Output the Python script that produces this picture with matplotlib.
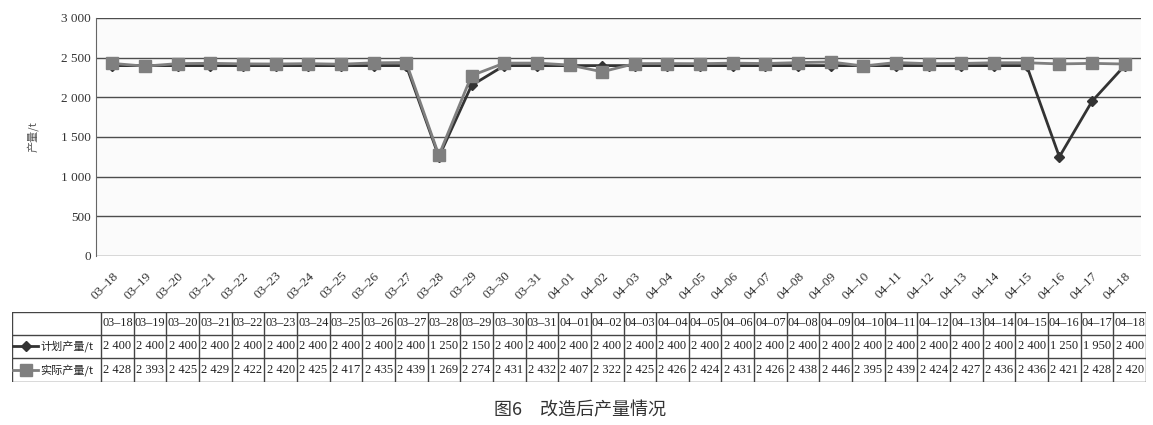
import matplotlib
matplotlib.use("Agg")
import matplotlib.pyplot as plt
from matplotlib.ticker import FuncFormatter, MultipleLocator

# data
dates = ["03–18", "03–19", "03–20", "03–21", "03–22", "03–23", "03–24", "03–25",
         "03–26", "03–27", "03–28", "03–29", "03–30", "03–31", "04–01", "04–02",
         "04–03", "04–04", "04–05", "04–06", "04–07", "04–08", "04–09", "04–10",
         "04–11", "04–12", "04–13", "04–14", "04–15", "04–16", "04–17", "04–18"]
planned = [2400, 2400, 2400, 2400, 2400, 2400, 2400, 2400, 2400, 2400, 1250, 2150,
           2400, 2400, 2400, 2400, 2400, 2400, 2400, 2400, 2400, 2400, 2400, 2400,
           2400, 2400, 2400, 2400, 2400, 1250, 1950, 2400]
actual = [2428, 2393, 2425, 2429, 2422, 2420, 2425, 2417, 2435, 2439, 1269, 2274,
          2431, 2432, 2407, 2322, 2425, 2426, 2424, 2431, 2426, 2438, 2446, 2395,
          2439, 2424, 2427, 2436, 2436, 2421, 2428, 2420]
series_names = ["计划产量/t", "实际产量/t"]

serif = ["Liberation Serif", "DejaVu Serif"]
cjk = ["Noto Sans CJK SC", "DejaVu Sans"]
dark = "#333333"
grey = "#7f7f7f"


def fmt(v):
    return f"{int(v):,}".replace(",", " ")


W, H = 1153, 425
fig = plt.figure(figsize=(W / 100, H / 100), dpi=100)
fig.patch.set_facecolor("white")

# ---- line chart
ax = fig.add_axes([96 / W, 1 - 256 / H, (1141 - 96) / W, (256 - 18) / H])
ax.set_facecolor("#fbfbfb")
x = range(len(dates))
ax.plot(x, planned, color=dark, lw=2, marker="D", ms=5, zorder=3)
ax.plot(x, actual, color=grey, lw=2, marker="s", ms=8.5, zorder=4)
ax.set_xlim(-0.5, len(dates) - 0.5)
ax.set_ylim(0, 3000)
ax.yaxis.set_major_locator(MultipleLocator(500))
ax.yaxis.set_major_formatter(FuncFormatter(lambda v, p: fmt(v)))
ax.grid(axis="y", color="#4d4d4d", lw=1)
ax.set_axisbelow(True)
for s in ["top", "right", "bottom"]:
    ax.spines[s].set_visible(False)
ax.spines["left"].set_color("#666666")
ax.tick_params(length=0, labelsize=9.5, colors="#333333")
ax.set_xticks(list(x))
ax.set_xticklabels(dates, rotation=45, ha="right", rotation_mode="anchor",
                   fontsize=9.5, family=serif)
for lb in ax.get_yticklabels():
    lb.set_family(serif)
ax.tick_params(axis="x", pad=10)
ax.set_ylabel("产量/t", family=cjk, fontsize=8, color="#555555", labelpad=16)

# ---- data table below
tab = fig.add_axes([12 / W, 1 - 382 / H, (1146 - 12) / W, (382 - 312) / H])
tab.set_xlim(12, 1146)
tab.set_ylim(382, 312)
tab.axis("off")
first = 101
cw = (1146 - first) / len(dates)
rows = [312, 334.5, 358, 381.5]
for yy in rows:
    tab.plot([12, 1146], [yy, yy], color="#444444", lw=1)
for i in range(len(dates) + 1):
    xx = first + i * cw
    tab.plot([xx, xx], [rows[0], rows[-1]], color="#444444", lw=1)
tab.plot([12, 12], [rows[0], rows[-1]], color="#444444", lw=1)

for i, d in enumerate(dates):
    cx = first + (i + 0.5) * cw
    tab.text(cx, (rows[0] + rows[1]) / 2, d, ha="center", va="center",
             fontsize=8.8, family=serif, color="#222222")
    tab.text(cx, (rows[1] + rows[2]) / 2, fmt(planned[i]), ha="center",
             va="center", fontsize=9, family=serif, color="#222222")
    tab.text(cx, (rows[2] + rows[3]) / 2, fmt(actual[i]), ha="center",
             va="center", fontsize=9, family=serif, color="#222222")

styles = [(dark, "D", 5), (grey, "s", 8)]
for r, (name, (c, m, ms)) in enumerate(zip(series_names, styles)):
    cy = (rows[r + 1] + rows[r + 2]) / 2
    tab.plot([13, 38], [cy, cy], color=c, lw=2)
    tab.plot([25.5], [cy], color=c, marker=m, ms=ms)
    tab.text(40, cy, name, ha="left", va="center", fontsize=8,
             family=cjk, color="#222222")

fig.text(0.503, 1 - 410 / H, "图6　改造后产量情况", ha="center", va="center",
         fontsize=13, family=cjk, color="#333333")

fig.savefig("out.png", dpi=100)
